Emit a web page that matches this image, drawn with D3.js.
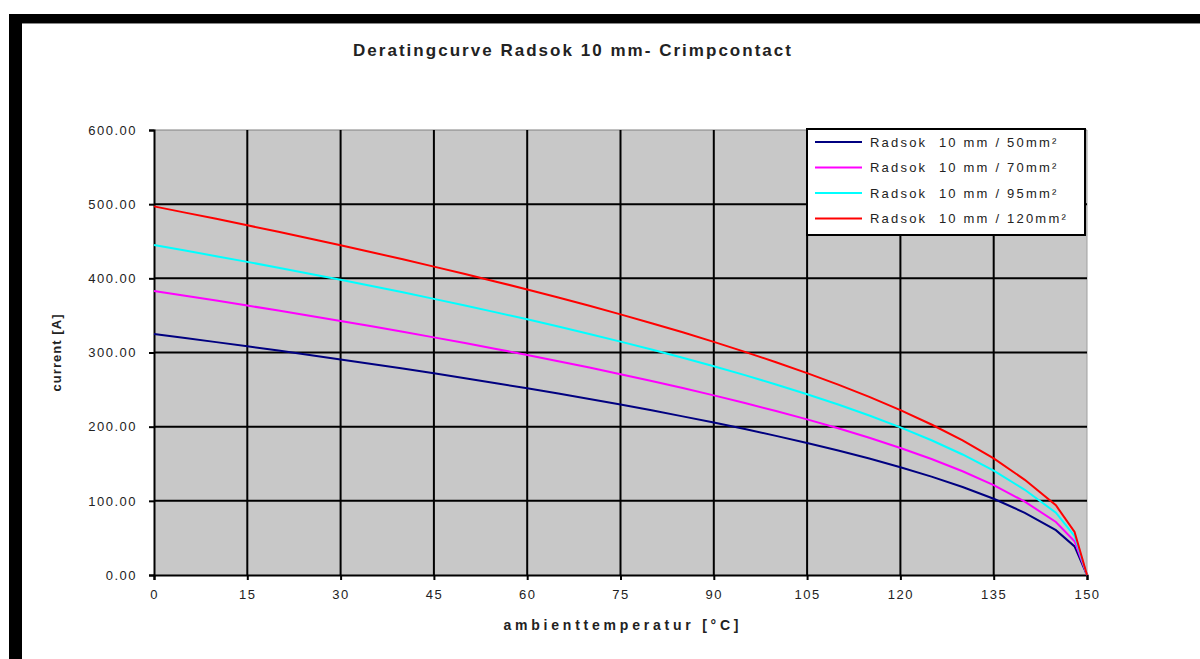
<!DOCTYPE html>
<html><head><meta charset="utf-8">
<script src="https://cdn.jsdelivr.net/npm/d3@7"></script>
<style>
html,body{margin:0;padding:0;background:#fff;}
svg{display:block;font-family:"Liberation Sans",Arial,sans-serif;}
</style></head>
<body><svg id="c" width="1200" height="659"></svg>
<script>
const title = "Deratingcurve Radsok 10 mm- Crimpcontact";
const xLabel = "ambienttemperatur [°C]";
const yLabel = "current [A]";
const temps = [0,5,10,15,20,25,30,35,40,45,50,55,60,65,70,75,80,85,90,95,100,105,110,115,120,125,130,135,140,145,148,150];
const seriesNames = ["Radsok  10 mm / 50mm²","Radsok  10 mm / 70mm²","Radsok  10 mm / 95mm²","Radsok  10 mm / 120mm²"];
const seriesColors = ["#000080","#ff00ff","#00ffff","#ff0000"];
const s50  = [325,319.5,314.0,308.3,302.6,296.7,290.7,284.6,278.3,271.9,265.4,258.6,251.7,244.6,237.3,229.8,222.0,213.9,205.5,196.8,187.6,178.0,167.8,157.0,145.3,132.7,118.7,102.8,83.9,60.5,38.5,0];
const s70  = [383,376.6,370.0,363.3,356.6,349.6,342.6,335.4,328.0,320.4,312.7,304.8,296.7,288.3,279.7,270.8,261.6,252.1,242.2,231.9,221.1,209.8,197.8,185.0,171.3,156.4,139.9,121.1,98.9,71.5,45.5,0];
const s95  = [445,437.5,429.9,422.2,414.3,406.2,398.0,389.6,381.1,372.3,363.3,354.1,344.7,335.0,325.0,314.7,304.0,292.9,281.4,269.5,256.9,243.7,229.8,215.0,199.0,181.7,162.5,140.7,114.9,84.0,52.5,0];
const s120 = [497,488.6,480.2,471.5,462.7,453.7,444.5,435.2,425.6,415.8,405.8,395.5,385.0,374.1,363.0,351.4,339.5,327.2,314.3,300.9,286.9,272.2,256.7,240.1,222.3,202.9,181.5,157.2,128.3,94.0,58.0,0];
const xTicks = [0,15,30,45,60,75,90,105,120,135,150];
const yTicks = [0,100,200,300,400,500,600];

const svg = d3.select("#c");
// frame
svg.append("rect").attr("x",9).attr("y",14).attr("width",1191).attr("height",9).attr("fill","#000");
svg.append("rect").attr("x",9).attr("y",14).attr("width",13).attr("height",645).attr("fill","#000");
svg.append("line").attr("x1",22).attr("x2",1200).attr("y1",23.5).attr("y2",23.5).attr("stroke","#888").attr("stroke-width",1);

const L=154,R=1087,T=130,B=575;
const x = d3.scaleLinear().domain([0,150]).range([L,R]);
const y = d3.scaleLinear().domain([0,600]).range([B,T]);

svg.append("rect").attr("x",L).attr("y",T).attr("width",R-L).attr("height",B-T).attr("fill","#c8c8c8");
svg.append("line").attr("x1",L).attr("x2",R).attr("y1",T).attr("y2",T).attr("stroke","#808080").attr("stroke-width",1);
svg.append("line").attr("x1",R).attr("x2",R).attr("y1",T).attr("y2",B).attr("stroke","#a0a0a0").attr("stroke-width",1);

// gridlines
svg.append("g").selectAll("line").data(yTicks.filter(d=>d>0&&d<600)).join("line")
  .attr("x1",L).attr("x2",R).attr("y1",d=>y(d)).attr("y2",d=>y(d)).attr("stroke","#000").attr("stroke-width",2);
svg.append("g").selectAll("line").data(xTicks.filter(d=>d>0&&d<150)).join("line")
  .attr("y1",T).attr("y2",B).attr("x1",d=>x(d)).attr("x2",d=>x(d)).attr("stroke","#000").attr("stroke-width",2);

// axes
const xAxis = d3.axisBottom(x).tickValues(xTicks).tickSize(5).tickPadding(10).tickFormat(d3.format("d"));
const gx = svg.append("g").attr("transform",`translate(0,${B})`).call(xAxis);
gx.select(".domain").attr("stroke","#000").attr("stroke-width",2);
gx.selectAll(".tick line").attr("stroke","#000").attr("stroke-width",2);
gx.selectAll("text").attr("font-size",13).attr("fill","#222").attr("letter-spacing","1.5px").attr("font-family","Liberation Sans, Arial");

const yAxis = d3.axisLeft(y).tickValues(yTicks).tickSize(5).tickPadding(12).tickFormat(d3.format(".2f"));
const gy = svg.append("g").attr("transform",`translate(${L},0)`).call(yAxis);
gy.select(".domain").attr("stroke","#000").attr("stroke-width",2);
gy.selectAll(".tick line").attr("stroke","#000").attr("stroke-width",2);
gy.selectAll("text").attr("font-size",13).attr("fill","#222").attr("letter-spacing","1.5px").attr("font-family","Liberation Sans, Arial");

// lines
const allSeries = [s50,s70,s95,s120];
const line = d3.line().x((d,i)=>x(temps[i])).y(d=>y(d));
svg.append("g").selectAll("path").data(allSeries).join("path")
  .attr("d",d=>line(d)).attr("fill","none").attr("stroke",(d,i)=>seriesColors[i]).attr("stroke-width",2);

// title and labels
svg.append("text").attr("x",572).attr("y",56).attr("text-anchor","middle").attr("font-size",17)
  .attr("font-weight","bold").attr("fill","#222").attr("textLength",438).attr("lengthAdjust","spacing").text(title);
svg.append("text").attr("x",621).attr("y",630).attr("text-anchor","middle").attr("font-size",14)
  .attr("font-weight","bold").attr("fill","#222").attr("textLength",235).attr("lengthAdjust","spacing").text(xLabel);
svg.append("text").attr("transform","translate(61,353) rotate(-90)").attr("text-anchor","middle").attr("font-size",13)
  .attr("font-weight","bold").attr("fill","#222").attr("textLength",77).attr("lengthAdjust","spacing").text(yLabel);

// legend
const lg = svg.append("g");
lg.append("rect").attr("x",807).attr("y",129).attr("width",278).attr("height",106).attr("fill","#fff").attr("stroke","#000").attr("stroke-width",2);
const rows = lg.selectAll("g").data(seriesNames).join("g").attr("transform",(d,i)=>`translate(0,${142+i*25.5})`);
rows.append("line").attr("x1",815).attr("x2",862).attr("y1",0).attr("y2",0).attr("stroke",(d,i)=>seriesColors[i]).attr("stroke-width",2);
rows.append("text").attr("x",870).attr("y",4.5).attr("font-size",13).attr("fill","#222").attr("letter-spacing","2.2px")
  .attr("xml:space","preserve").style("white-space","pre").text(d=>d);
</script></body></html>
